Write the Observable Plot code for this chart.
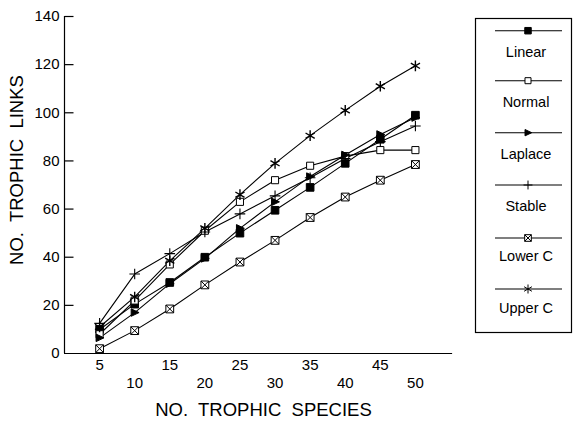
<!DOCTYPE html>
<html><head><meta charset="utf-8">
<script src="https://cdn.jsdelivr.net/npm/d3@7"></script>
<script src="https://cdn.jsdelivr.net/npm/@observablehq/plot@0.6"></script>
<style>
body{margin:0;background:#fff;}
#wrap{position:relative;width:574px;height:421px;font-family:"Liberation Sans",Arial,Helvetica,sans-serif;}
#wrap svg{position:absolute;left:0;top:0;overflow:visible;}
</style></head><body><div id="wrap"></div>
<script>
// ---- data ----
const species = [5, 10, 15, 20, 25, 30, 35, 40, 45, 50];
const linear  = [10, 20.5, 29.5, 40, 50, 59.5, 69, 79, 89, 99];
const normal  = [8, 22, 37, 51, 63, 72, 78, 82, 84.5, 84.5];
const laplace = [6.5, 17, 29, 39.5, 52, 63, 73.5, 82.5, 91, 98];
const stable  = [12.5, 33, 41.5, 50.5, 58, 65.5, 73, 81, 88, 94.5];
const lowerC  = [2, 9.5, 18.5, 28.5, 38, 47, 56.5, 65, 72, 78.5];
const upperC  = [11, 23.5, 38.5, 52, 66, 79, 90.5, 101, 111, 119.5];
const seriesNames = ["Linear", "Normal", "Laplace", "Stable", "Lower C", "Upper C"];
const seriesValues = [linear, normal, laplace, stable, lowerC, upperC];
const yTicks = [0, 20, 40, 60, 80, 100, 120, 140];
const xTicksUpper = [5, 15, 25, 35, 45];
const xTicksLower = [10, 20, 30, 40, 50];
const xLabel = "NO.\u00a0 TROPHIC\u00a0 SPECIES";
const yLabel = "NO.\u00a0 TROPHIC\u00a0 LINKS";

// table
const rows = [];
seriesNames.forEach((s, i) => species.forEach((x, j) => rows.push({series: s, x, y: seriesValues[i][j]})));

// symbols
const rightTri = {draw(c, s) { const r = Math.sqrt(s) * 0.55; c.moveTo(r, 0); c.lineTo(-r * 0.8, -r * 0.85); c.lineTo(-r * 0.8, r * 0.85); c.closePath(); }};
const boxX = {draw(c, s) { const r = Math.sqrt(s) / 2; c.moveTo(-r, -r); c.lineTo(r, -r); c.lineTo(r, r); c.lineTo(-r, r); c.closePath(); c.moveTo(-r, -r); c.lineTo(r, r); c.moveTo(r, -r); c.lineTo(-r, r); }};
const tickSym = {draw(c, s) { c.moveTo(0, 0); c.lineTo(9, 0); }};
const styles = {
  "Linear":  {symbol: "square", fill: "black", stroke: "black", r: 4.3, sw: 1},
  "Normal":  {symbol: "square", fill: "white", stroke: "black", r: 4, sw: 1},
  "Laplace": {symbol: rightTri, fill: "black", stroke: "black", r: 4.5, sw: 1},
  "Stable":  {symbol: d3.symbolPlus, fill: "none", stroke: "black", r: 3.5, sw: 1.1},
  "Lower C": {symbol: boxX, fill: "white", stroke: "black", r: 4.4, sw: 1},
  "Upper C": {symbol: d3.symbolAsterisk, fill: "none", stroke: "black", r: 5, sw: 1.4}
};

const font = '"Liberation Sans",Arial,Helvetica,sans-serif';
const chart = Plot.plot({
  width: 574, height: 421,
  marginTop: 16, marginBottom: 68, marginLeft: 64, marginRight: 124,
  x: {domain: [0, 55], axis: null},
  y: {domain: [0, 140], axis: null},
  style: {fontFamily: font, fontSize: "15px", background: "transparent", color: "black"},
  marks: [
    Plot.ruleX([0], {y1: 0, y2: 140, stroke: "black", strokeWidth: 1.2}),
    Plot.ruleY([0], {x1: 0, x2: 55.3, stroke: "black", strokeWidth: 1.2}),
    Plot.dot(yTicks.filter(v => v > 0), {x: 0, y: d => d, symbol: tickSym, r: 3, stroke: "black", strokeWidth: 1.2}),
    Plot.text(yTicks, {x: 0, y: d => d, text: d => String(d), textAnchor: "end", dx: -5, fontSize: 15}),
    Plot.text(xTicksUpper, {x: d => d, y: 0, text: d => String(d), dy: 12, fontSize: 15}),
    Plot.text(xTicksLower, {x: d => d, y: 0, text: d => String(d), dy: 30, fontSize: 15}),
    Plot.text([xLabel], {frameAnchor: "bottom", text: d => d, textAnchor: "middle", lineAnchor: "middle", dy: 57, dx: 6, fontSize: 18.5}),
    Plot.text([yLabel], {frameAnchor: "left", text: d => d, textAnchor: "middle", lineAnchor: "middle", rotate: -90, dx: -47, dy: -15, fontSize: 18.5}),
    Plot.line(rows, {x: "x", y: "y", z: "series", stroke: "black", strokeWidth: 1.1}),
    ...seriesNames.map(s => {
      const {sw, ...st} = styles[s];
      return Plot.dot(rows.filter(d => d.series === s), {x: "x", y: "y", ...st, strokeWidth: sw});
    })
  ]
});
document.getElementById("wrap").appendChild(chart);

// legend
const lg = d3.select("#wrap").append("svg").attr("width", 574).attr("height", 421);
lg.append("rect").attr("x", 475.5).attr("y", 18.5).attr("width", 96).attr("height", 314)
  .attr("fill", "none").attr("stroke", "black").attr("stroke-width", 1.2);
const lineYs = [30.7, 80.7, 132.7, 185, 238, 289];
const labelYs = [52.7, 102.7, 155, 206.7, 256.7, 309];
seriesNames.forEach((s, i) => {
  const st = styles[s];
  lg.append("line").attr("x1", 495).attr("x2", 562).attr("y1", lineYs[i]).attr("y2", lineYs[i]).attr("stroke", "black").attr("stroke-width", 1.1);
  const type = typeof st.symbol === "string" ? d3.symbolSquare : st.symbol;
  const r = st.r * 0.85;
  lg.append("path").attr("d", d3.symbol().type(type).size(r * r * Math.PI)())
    .attr("transform", `translate(528,${lineYs[i]})`)
    .attr("fill", st.fill).attr("stroke", st.stroke).attr("stroke-width", 1);
  lg.append("text").attr("x", 526).attr("y", labelYs[i]).attr("text-anchor", "middle")
    .attr("dominant-baseline", "middle").attr("font-family", font).attr("font-size", 14.5).text(s);
});
</script></body></html>
